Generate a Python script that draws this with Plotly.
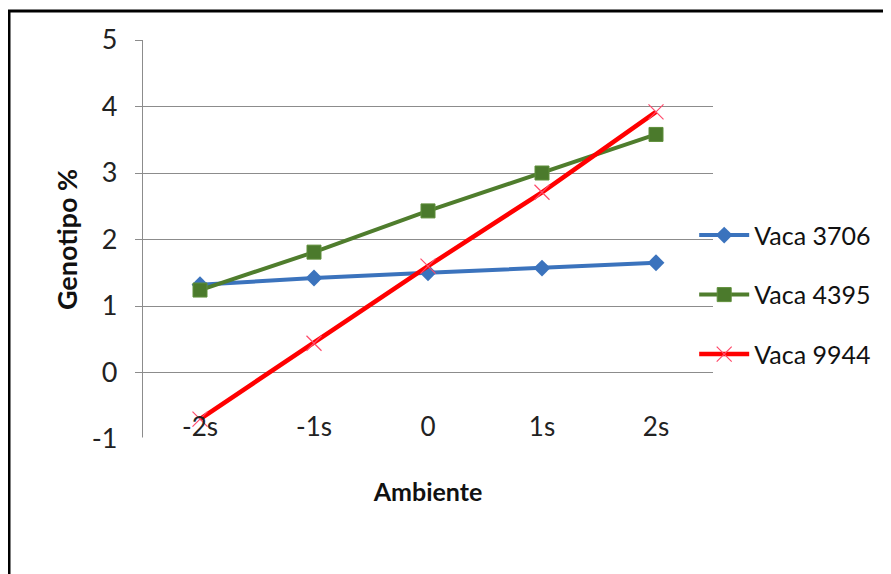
import plotly.graph_objects as go

categories = ["-2s", "-1s", "0", "1s", "2s"]
vaca_3706 = [1.32, 1.42, 1.50, 1.57, 1.65]
vaca_4395 = [1.24, 1.81, 2.43, 3.00, 3.58]
vaca_9944 = [-0.70, 0.44, 1.60, 2.71, 3.92]
y_ticks = [-1, 0, 1, 2, 3, 4, 5]
y_tick_labels = ["-1", "0", "1", "2", "3", "4", "5"]

FONT = "Lato"

fig = go.Figure()
fig.add_trace(go.Scatter(
    x=categories, y=vaca_3706, name="Vaca 3706", mode="lines+markers",
    legendgroup="a",
    line=dict(color="#3b73bd", width=4),
    marker=dict(symbol="diamond", size=13, color="#3b73bd"),
))
fig.add_trace(go.Scatter(
    x=categories, y=vaca_4395, name="Vaca 4395", mode="lines+markers",
    legendgroup="b",
    line=dict(color="#4f7d2d", width=4),
    marker=dict(symbol="square", size=14, color="#4b7a2c",
                line=dict(color="#5f8f3a", width=1)),
))
fig.add_trace(go.Scatter(
    x=categories, y=vaca_9944, name="Vaca 9944", mode="lines+markers",
    legendgroup="c",
    line=dict(color="#ff0000", width=4.5),
    marker=dict(symbol="x-thin", size=15, color="#ff4a6a",
                line=dict(color="#ff4a6a", width=1.2)),
))

L, T, PW, PH = 135, 32, 570, 399

fig.update_layout(
    width=891, height=574,
    margin=dict(l=L, r=891 - L - PW, t=T, b=574 - T - PH, autoexpand=False),
    paper_bgcolor="white", plot_bgcolor="white",
    font=dict(family=FONT, color="#222222"),
    showlegend=True,
    legend=dict(
        x=0.967, xanchor="left", y=0.568, yanchor="top",
        font=dict(family=FONT, size=25, color="#111111"),
        traceorder="grouped", tracegroupgap=24,
        itemwidth=50, bgcolor="rgba(0,0,0,0)",
    ),
    xaxis=dict(
        type="category", range=[-0.5, 4.5],
        showgrid=False, zeroline=False, showline=False,
        ticks="", ticklabelstandoff=-30,
        tickfont=dict(family=FONT, size=26, color="#222222"),
        title=dict(text="<b>Ambiente</b>", font=dict(family=FONT, size=25, color="#111111"),
                   standoff=42),
    ),
    yaxis=dict(
        range=[-1, 5], tickvals=y_ticks, ticktext=y_tick_labels,
        showgrid=True, gridcolor="#8c8c8c", gridwidth=1.3,
        zeroline=False, showline=True, linecolor="#8c8c8c", linewidth=1.3,
        ticks="outside", ticklen=7, tickcolor="#8c8c8c",
        tickfont=dict(family=FONT, size=27, color="#222222"),
        ticklabelstandoff=12,
        title=dict(text="<b>Genotipo %</b>", font=dict(family=FONT, size=27, color="#111111"),
                   standoff=6),
    ),
    shapes=[
        dict(type="line", xref="paper", yref="paper",
             x0=(1 - L) / PW, x1=(1 - L) / PW, y0=(T + PH - 2) / PH, y1=-(600 - T - PH) / PH,
             line=dict(color="black", width=3)),
        dict(type="line", xref="paper", yref="paper",
             x0=(0 - L) / PW, x1=(900 - L) / PW, y0=(T + PH - 3) / PH, y1=(T + PH - 3) / PH,
             line=dict(color="black", width=3)),
        dict(type="line", xref="paper", yref="paper",
             x0=-0.02, x1=1, y0=0, y1=0,
             line=dict(color="white", width=3), layer="above"),
    ],
)

fig.write_html("out.html")
